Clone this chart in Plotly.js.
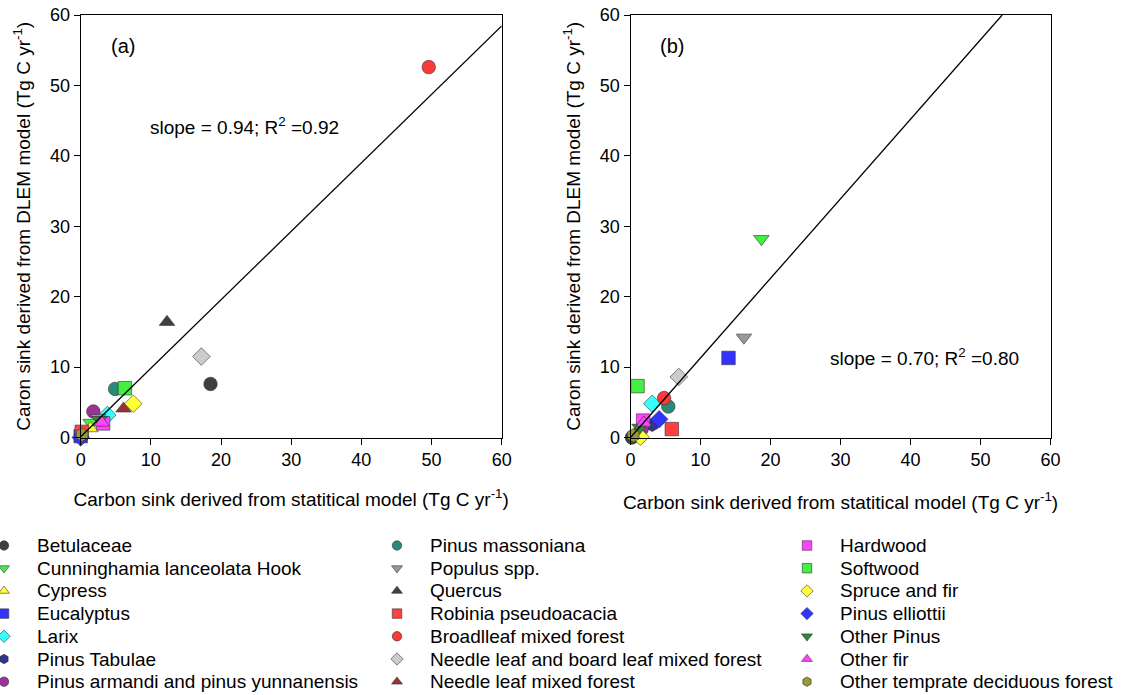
<!DOCTYPE html>
<html><head><meta charset="utf-8">
<script src="https://cdn.plot.ly/plotly-3.0.1.min.js"></script>
<style>html,body{margin:0;padding:0;background:#fff}#chart{width:1123px;height:695px}</style>
</head><body><div id="chart"></div>
<script>
// ---- data ----
const categories = [
  "Betulaceae", "Cunninghamia lanceolata Hook", "Cypress", "Eucalyptus", "Larix",
  "Pinus Tabulae", "Pinus armandi and pinus yunnanensis",
  "Pinus massoniana", "Populus spp.", "Quercus", "Robinia pseudoacacia",
  "Broadlleaf mixed forest", "Needle leaf and board leaf mixed forest", "Needle leaf mixed forest",
  "Hardwood", "Softwood", "Spruce and fir", "Pinus elliottii", "Other Pinus", "Other fir",
  "Other temprate deciduous forest"
];
const symbols = [
  "circle", "triangle-down", "triangle-up", "square", "diamond", "hexagon", "circle",
  "circle", "triangle-down", "triangle-up", "square", "circle", "diamond", "triangle-up",
  "square", "square", "diamond", "diamond", "triangle-down", "triangle-up", "hexagon"
];
const colors = [
  "#3f3f3f", "#44ee44", "#ffff33", "#3333ff", "#33ffff", "#33338a", "#993399",
  "#2a8a7a", "#999999", "#404040", "#ff4040", "#ff3838", "#cccccc", "#993333",
  "#ff44ff", "#44ee44", "#ffff33", "#3333ff", "#338833", "#ff44ff", "#999933"
];
// panel (a)
const statA = [18.5, 1.4, 1.4, 0.0, 3.8, 0.1, 1.8, 4.9, 2.5, 12.3, 0.15, 49.6, 17.2, 6.1, 3.2, 6.3, 7.5, 0.0, 2.7, 3.0, 0.2];
const dlemA = [7.6, 2.1, 1.3, 0.2, 3.2, 0.6, 3.7, 6.9, 2.8, 16.4, 0.8, 52.6, 11.5, 4.1, 2.0, 7.0, 4.8, 0.0, 2.5, 2.1, 0.4];
// panel (b)
const statB = [0.2, 18.7, 0.9, 14.0, 3.1, 3.1, 1.6, 5.4, 16.2, 0.6, 5.9, 4.8, 6.9, 1.0, 1.8, 1.0, 1.4, 4.1, 1.3, 1.9, 0.4];
const dlemB = [0.0, 28.2, 0.6, 11.3, 4.8, 1.8, 1.2, 4.4, 14.2, 0.4, 1.2, 5.6, 8.6, 0.8, 2.4, 7.3, 0.1, 2.6, 1.4, 2.1, 0.3];
// fitted lines (end points)
const fitAX = [0, 60], fitAY = [0.1, 58.45];
const fitBX = [0, 53.1], fitBY = [0, 60];
const axisTicks = [0, 10, 20, 30, 40, 50, 60];
const labelA = "slope = 0.94; R<sup>2</sup> =0.92";
const labelB = "slope = 0.70; R<sup>2</sup> =0.80";
const xTitle = "Carbon sink derived from statitical model (Tg C yr<sup>-1</sup>)";
const yTitle = "Caron sink derived from DLEM model (Tg C yr<sup>-1</sup>)";

// ---- layout constants ----
const W = 1123, H = 695;
const FONT = "Liberation Sans, Arial, sans-serif";
const pxA = [80.7, 501.7], pxB = [630.5, 1050.5], pyTop = 15, pyBot = 437.5;
const legendColX = [4, 397, 807], legendTextGap = 31, legendTop = 545.5, legendRowGap = 22.7, legendRows = 7;

function xd(p) { return p.map(v => v / W); }
function yd() { return [1 - pyBot / H, 1 - pyTop / H]; }

const mk = (size) => ({ symbol: symbols, color: colors, size: size, line: { color: "#333333", width: 0.6 } });

const traces = [
  { x: statA, y: dlemA, xaxis: "x", yaxis: "y", type: "scatter", mode: "markers", marker: mk(13.5),
    cliponaxis: false, showlegend: false, text: categories, hoverinfo: "text+x+y" },
  { x: fitAX, y: fitAY, xaxis: "x", yaxis: "y", type: "scatter", mode: "lines",
    line: { color: "#000", width: 1.3 }, showlegend: false, hoverinfo: "skip" },
  { x: statB, y: dlemB, xaxis: "x2", yaxis: "y2", type: "scatter", mode: "markers", marker: mk(13.5),
    cliponaxis: false, showlegend: false, text: categories, hoverinfo: "text+x+y" },
  { x: fitBX, y: fitBY, xaxis: "x2", yaxis: "y2", type: "scatter", mode: "lines",
    line: { color: "#000", width: 1.3 }, showlegend: false, hoverinfo: "skip" }
];

// legend (three columns) drawn on a hidden pixel-scale axis
const legX = categories.map((c, i) => legendColX[Math.floor(i / legendRows)]);
const legY = categories.map((c, i) => legendTop + (i % legendRows) * legendRowGap);
traces.push({ x: legX, y: legY, xaxis: "x3", yaxis: "y3", type: "scatter", mode: "markers",
  marker: mk(9.5), cliponaxis: false, showlegend: false, hoverinfo: "skip" });

const annotations = categories.map((c, i) => ({
  text: c, xref: "paper", yref: "paper",
  x: (legX[i] + legendTextGap) / W, y: 1 - legY[i] / H,
  xanchor: "left", yanchor: "middle", showarrow: false,
  font: { family: FONT, size: 19, color: "#000" }
}));
annotations.push(
  { text: "(a)", xref: "x", yref: "y", x: 6.0, y: 55.6, showarrow: false, font: { family: FONT, size: 20, color: "#000" } },
  { text: "(b)", xref: "x2", yref: "y2", x: 5.9, y: 55.6, showarrow: false, font: { family: FONT, size: 20, color: "#000" } },
  { text: labelA, xref: "x", yref: "y", x: 9.6, y: 44.2, xanchor: "left", showarrow: false, font: { family: FONT, size: 19, color: "#000" } },
  { text: labelB, xref: "x2", yref: "y2", x: 28.2, y: 11.4, xanchor: "left", showarrow: false, font: { family: FONT, size: 19, color: "#000" } }
);

function axis(domain, anchor, title, standoff) {
  return {
    domain: domain, anchor: anchor, range: [0, 60], tickvals: axisTicks, ticks: "outside", ticklen: 6,
    tickwidth: 1, tickcolor: "#000", showline: true, linecolor: "#000", linewidth: 1, mirror: true,
    showgrid: false, zeroline: false, fixedrange: true,
    tickfont: { family: FONT, size: 18, color: "#000" },
    title: { text: title, font: { family: FONT, size: 19, color: "#000" }, standoff: standoff }
  };
}

const layout = {
  width: W, height: H, margin: { l: 0, r: 0, t: 0, b: 0, pad: 0 },
  paper_bgcolor: "#fff", plot_bgcolor: "rgba(0,0,0,0)", showlegend: false,
  font: { family: FONT, size: 18, color: "#000" },
  xaxis: axis(xd(pxA), "y", xTitle, 23),
  yaxis: axis(yd(), "x", yTitle, 14),
  xaxis2: axis(xd(pxB), "y2", xTitle, 26),
  yaxis2: axis(yd(), "x2", yTitle, 14),
  xaxis3: { domain: [0, 1], anchor: "y3", range: [0, W], visible: false, fixedrange: true },
  yaxis3: { domain: [0, 1], anchor: "x3", range: [H, 0], visible: false, fixedrange: true },
  annotations: annotations
};

Plotly.newPlot("chart", traces, layout, { displayModeBar: false, staticPlot: true });
</script>
</body></html>
